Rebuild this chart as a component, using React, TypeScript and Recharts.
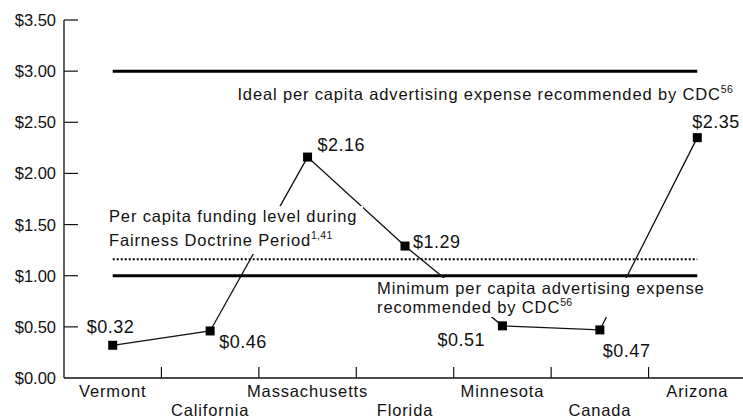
import React from 'react';
import { LineChart, Line, XAxis, YAxis, ReferenceLine, ReferenceDot, LabelList } from 'recharts';

const categories = ['Vermont', 'California', 'Massachusetts', 'Florida', 'Minnesota', 'Canada', 'Arizona'];
const spending = [0.32, 0.46, 2.16, 1.29, 0.51, 0.47, 2.35];
const yTicks = [0, 0.5, 1, 1.5, 2, 2.5, 3, 3.5];
const idealLevel = 3.0;
const minimumLevel = 1.0;
const fairnessLevel = 1.16;

// label placement relative to each marker (dx, dy in px)
const labelNudge = [[-26, -12], [9, 17], [10, -6], [8, 2], [-65, 20], [3, 27], [-5, -10]];

const FONT = "'Liberation Sans', Arial, Helvetica, sans-serif";
const INK = '#111';

const data = categories.map((name, i) => ({ name, pos: i + 0.5, value: spending[i] }));
const xTicks = categories.flatMap((_, i) => (i === 0 ? [0.5] : [i, i + 0.5]));
const first = data[0].pos;
const last = data[data.length - 1].pos;

const XTick = (props: any) => {
  const { x, y, payload } = props;
  const v = payload.value;
  if (Number.isInteger(v)) {
    return <line x1={x} x2={x} y1={y} y2={y - 11} stroke={INK} strokeWidth={1.2} />;
  }
  const idx = v - 0.5;
  return (
    <text x={x} y={y + (idx % 2 === 0 ? 19 : 38)} textAnchor="middle" fontFamily={FONT} fontSize={16.5} letterSpacing={0.85} fill={INK}>
      {categories[idx]}
    </text>
  );
};

const YTick = (props: any) => {
  const { x, y, payload } = props;
  return (
    <g>
      {payload.value > 0 && <line x1={x + 8} x2={x + 22} y1={y} y2={y} stroke={INK} strokeWidth={1.2} />}
      <text x={x} y={y} dy="0.36em" textAnchor="end" fontFamily={FONT} fontSize={16.5} fill={INK}>
        {'$' + payload.value.toFixed(2)}
      </text>
    </g>
  );
};

const SquareDot = (props: any) => {
  const { cx, cy } = props;
  if (cx == null || cy == null) return null;
  return <rect x={cx - 4.5} y={cy - 4.5} width={9} height={9} fill="#000" />;
};

const ValueLabel = (props: any) => {
  const { x, y, value, index } = props;
  const [dx, dy] = labelNudge[index];
  return (
    <text x={x + dx} y={y + dy} fontFamily={FONT} fontSize={18} letterSpacing={0.5} fill={INK}>
      {'$' + Number(value).toFixed(2)}
    </text>
  );
};

type NoteLine = { text: string; sup?: string };

const makeNote = (lines: NoteLine[], gap: number, box?: { w: number; h: number }) => (props: any) => {
  const { cx, cy } = props;
  return (
    <g>
      {box && <rect x={cx - 4} y={cy - 16} width={box.w} height={box.h} fill="#fff" />}
      <text fontFamily={FONT} fontSize={16.5} letterSpacing={0.85} fill={INK}>
        {lines.map((ln, i) => (
          <tspan key={i} x={cx} y={cy + i * gap}>
            {ln.text}
            {ln.sup && (
              <tspan fontSize={10.5} letterSpacing={0.3} dy={-7}>
                {ln.sup}
              </tspan>
            )}
          </tspan>
        ))}
      </text>
    </g>
  );
};

const IdealNote = makeNote([{ text: 'Ideal per capita advertising expense recommended by CDC', sup: '56' }], 0);
const FairnessNote = makeNote(
  [{ text: 'Per capita funding level during' }, { text: 'Fairness Doctrine Period', sup: '1,41' }],
  24,
  { w: 258, h: 48 }
);
const MinimumNote = makeNote(
  [{ text: 'Minimum per capita advertising expense' }, { text: 'recommended by CDC', sup: '56' }],
  19,
  { w: 336, h: 39 }
);

export default function App() {
  return (
    <div style={{ width: 743, height: 420, overflow: 'hidden' }}>
      <style>{'body { margin: 0; }'}</style>
      <LineChart width={746} height={420} data={data} margin={{ top: 20, right: 0, bottom: 0, left: 0 }}>
        <XAxis
          dataKey="pos"
          type="number"
          domain={[0, 7]}
          ticks={xTicks}
          interval={0}
          height={42}
          tickSize={0}
          tickMargin={0}
          tickLine={false}
          tick={<XTick />}
          axisLine={{ stroke: INK, strokeWidth: 1.3 }}
        />
        <YAxis
          type="number"
          domain={[0, 3.5]}
          ticks={yTicks}
          interval={0}
          width={64}
          tickSize={0}
          tickMargin={8}
          tickLine={false}
          tick={<YTick />}
          axisLine={{ stroke: INK, strokeWidth: 1.3 }}
        />
        <ReferenceLine segment={[{ x: first, y: idealLevel }, { x: last, y: idealLevel }]} stroke="#000" strokeWidth={3} />
        <ReferenceLine segment={[{ x: first, y: minimumLevel }, { x: last, y: minimumLevel }]} stroke="#000" strokeWidth={3} />
        <ReferenceLine
          segment={[{ x: first, y: fairnessLevel }, { x: last, y: fairnessLevel }]}
          stroke="#000"
          strokeWidth={2}
          strokeDasharray="2 2"
        />
        <Line
          dataKey="value"
          type="linear"
          stroke={INK}
          strokeWidth={1.3}
          dot={<SquareDot />}
          activeDot={false}
          isAnimationActive={false}
        >
          <LabelList dataKey="value" content={<ValueLabel />} />
        </Line>
        <ReferenceDot x={1.78} y={2.72} r={0} shape={IdealNote} zIndex={1000} />
        <ReferenceDot x={0.462} y={1.525} r={0} shape={FairnessNote} zIndex={1000} />
        <ReferenceDot x={3.213} y={0.821} r={0} shape={MinimumNote} zIndex={1000} />
      </LineChart>
    </div>
  );
}
